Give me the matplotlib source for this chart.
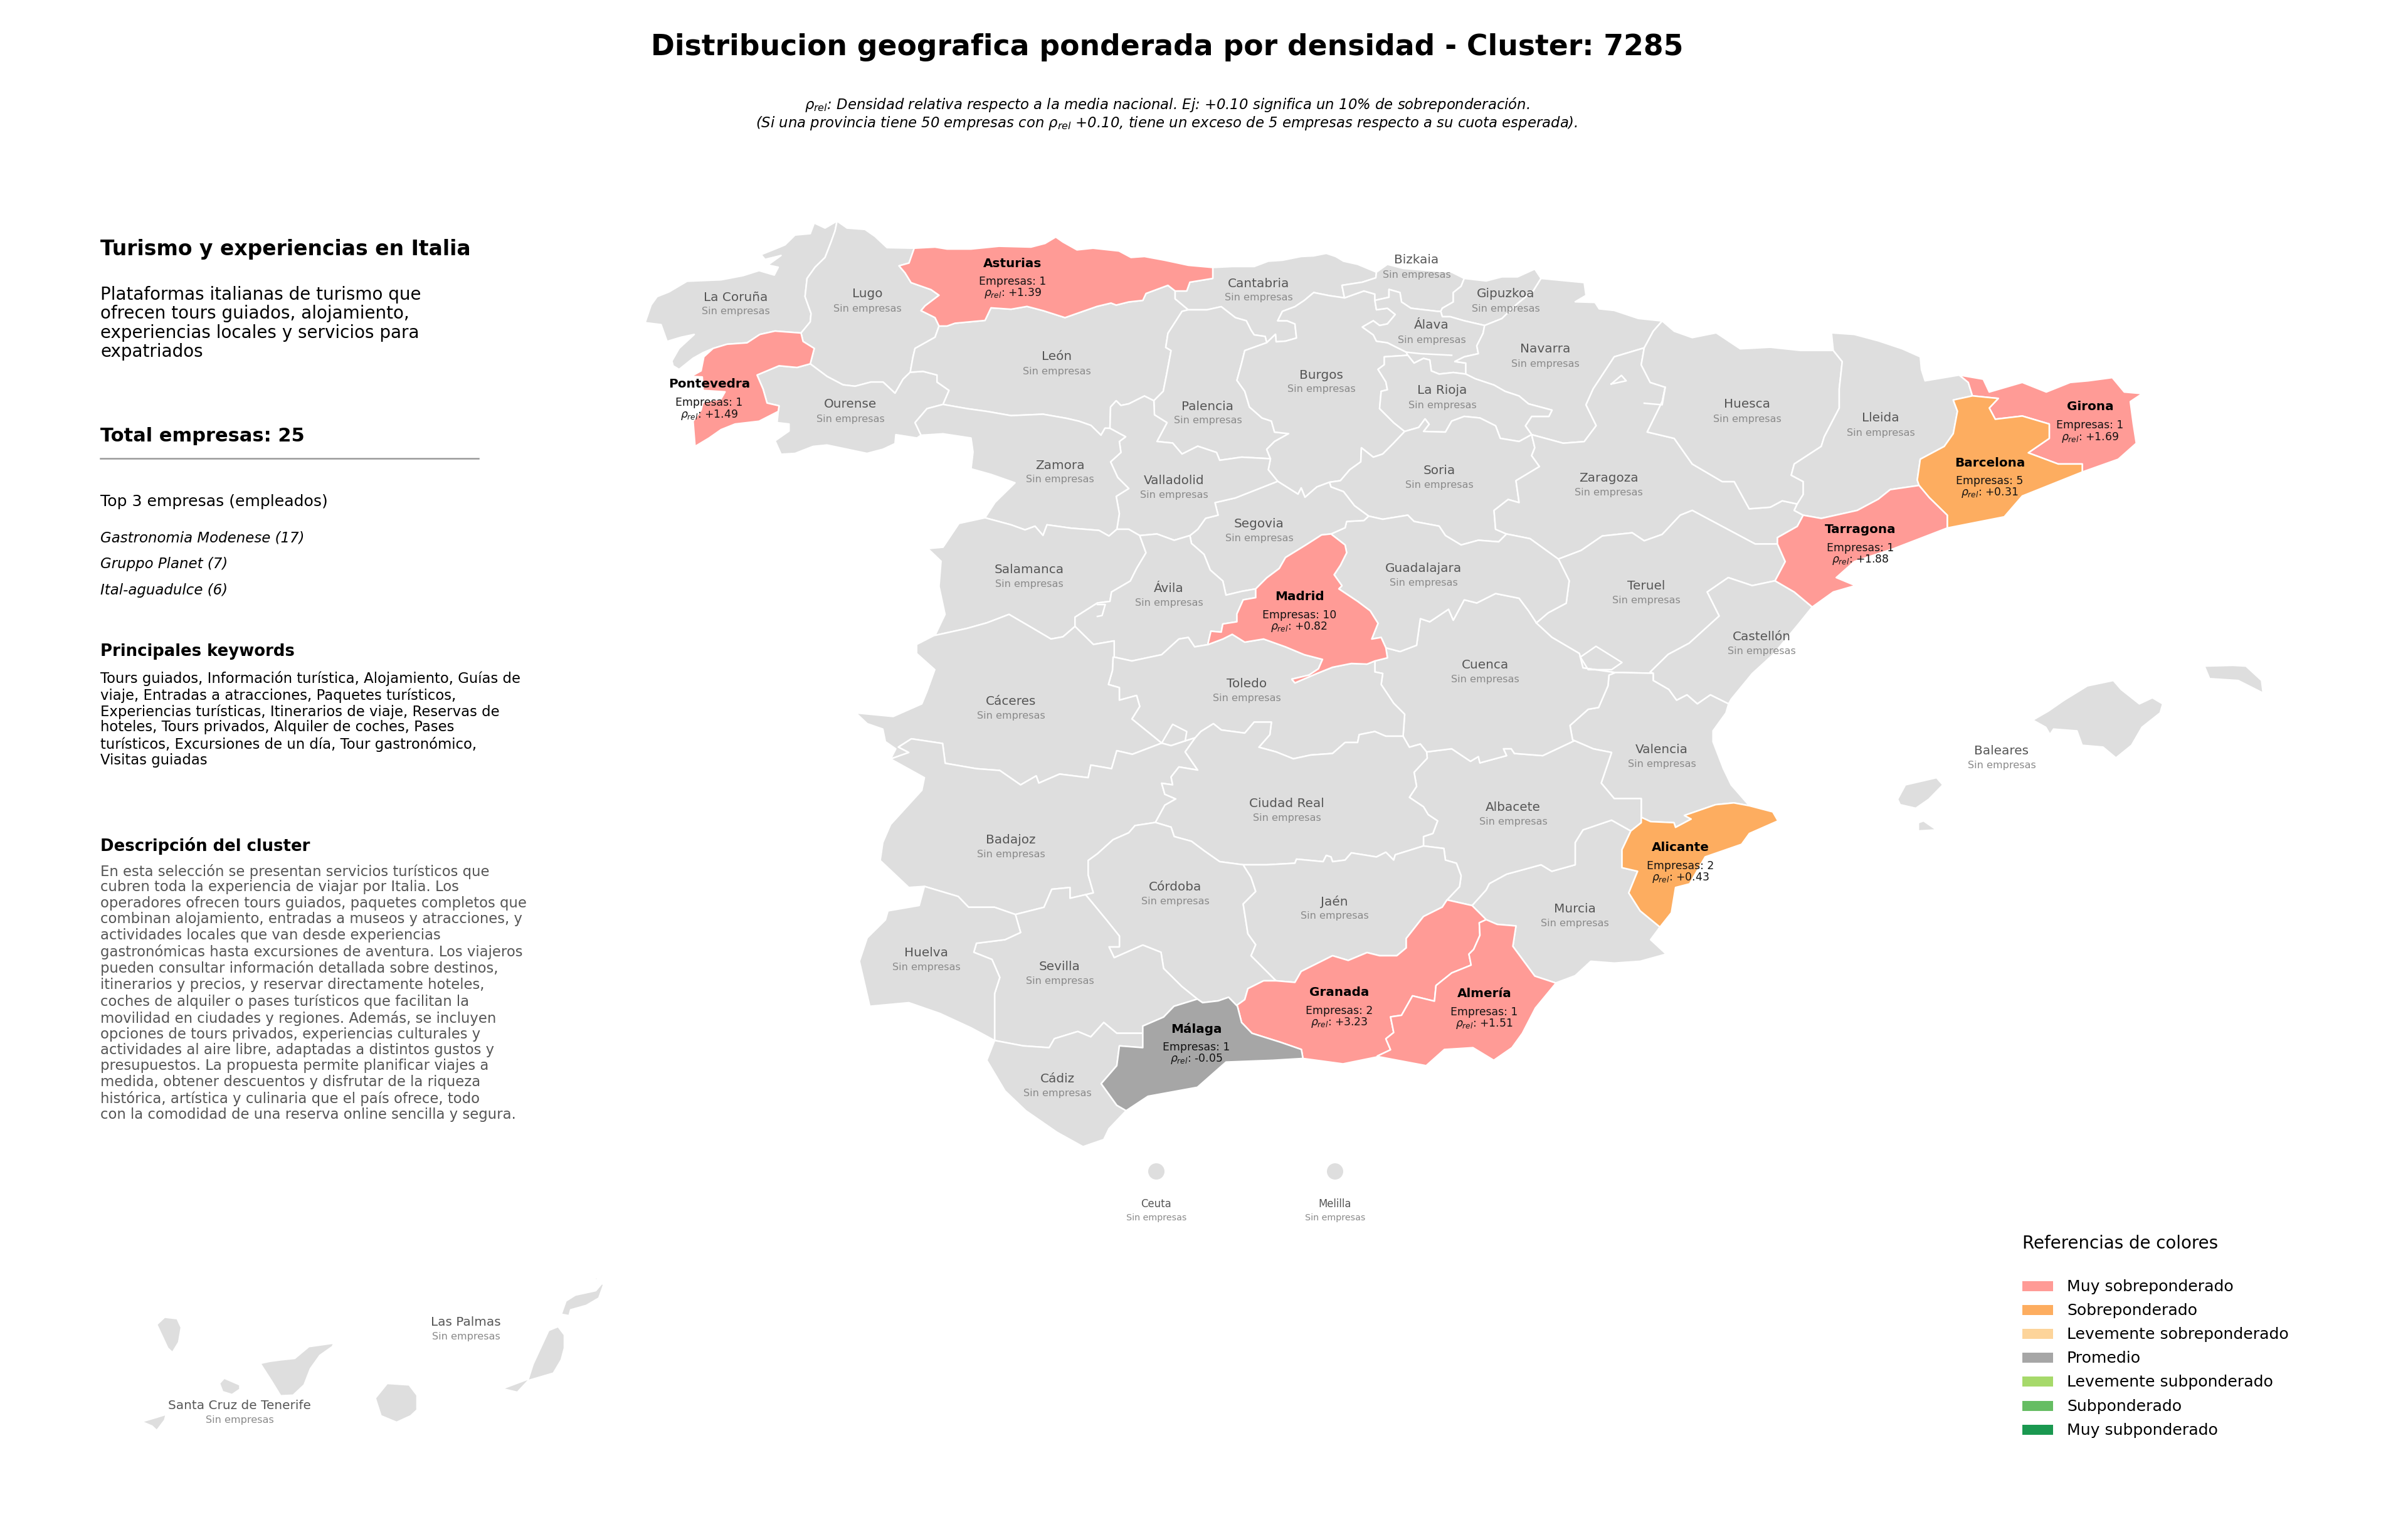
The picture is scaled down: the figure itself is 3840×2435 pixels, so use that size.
import math
import matplotlib
matplotlib.use('Agg')
import matplotlib.pyplot as plt
from matplotlib.patches import Polygon, Circle, Rectangle

DPI = 300
W, H = 3840, 2436


def crop(x0, y0, sx, sy):
    return lambda pts: [(x0 + x / sx, y0 + y / sy) for x, y in pts]


A = crop(1000, 320, 1.568, 2.24)
B = crop(2000, 320, 1.045, 1.96)
C = crop(1300, 1000, 1.206, 1.742)
D = crop(2400, 1000, 1.206, 1.742)
E = crop(1750, 320, 2, 2)
F = crop(1750, 900, 2, 2)
G = crop(200, 1700, 2, 2.13)

# coast and foreign border stretches
c_cor = A([(525,75),(495,100),(468,82),(458,120),(420,125),(395,160),(375,172),(335,195),(345,212),(385,198),(352,232),(378,240),(368,268),(330,252),(290,270),(235,285),(150,290),(105,328),(75,345),(60,375),(45,438),(85,445),(100,505),(135,490),(168,480),(130,530),(112,575),(115,592),(130,605),(165,565),(190,545),(215,530)])
c_lug = A([(525,75),(550,100),(595,105),(620,130),(650,170),(718,172)])
c_pon = A([(215,530),(192,560),(185,610),(160,630),(188,632),(190,680),(245,685),(235,710),(190,722),(185,750),(165,790),(170,880),(205,850),(235,820),(270,800),(330,790),(378,755)])
c_our = A([(378,755),(375,795),(405,800),(405,825),(370,860),(385,908),(420,905),(465,880),(500,875),(550,890),(600,905),(640,890),(670,870),(672,838),(725,850),(735,840)])
c_zam = A([(735,840),(790,835),(860,850),(865,900),(860,960),(910,980),(970,1010),(920,1080),(895,1135)])
c_sal = A([(895,1135),(830,1155),(790,1240),(752,1245),(785,1290),(780,1380),(795,1480),(770,1555)])
c_ast = A([(718,172),(770,168),(800,175),(860,175),(930,165),(1010,168),(1045,155),(1072,132),(1090,150),(1125,178),(1165,172),(1230,182),(1260,205)]) + E([(150,180),(215,192),(290,208),(368,215)])
c_can = E([(368,215),(430,212),(500,212),(545,195),(590,192),(650,180),(690,178),(730,170),(760,180),(785,195),(830,205),(890,230)])
c_biz = E([(890,230),(925,205),(975,218),(1060,225),(1130,230),(1170,250)])
c_gip = E([(1170,250),(1240,258),(1290,245),(1340,245),(1395,220),(1415,250)])
c_nav = B([(478,245),(550,258),(553,298),(535,318),(568,320),(575,340),(600,345),(640,370),(680,378)])
c_hue = B([(680,378),(700,410),(730,430),(770,415),(810,465),(860,460),(910,470),(965,470)])
c_lle = B([(965,470),(962,415),(1000,420),(1040,440),(1080,465),(1110,490),(1112,530),(1118,565),(1175,547)])
c_gir = B([(1175,547),(1215,560),(1225,600),(1280,570),(1320,600),(1360,570),(1390,565),(1430,555),(1450,600),(1480,605),(1460,630),(1465,700),(1470,760),(1440,810),(1380,850)])
c_bar = B([(1380,850),(1280,925),(1250,990),(1155,1025)])
c_tar = B([(1155,1025),(1065,1090),(1000,1130),(970,1180),(1002,1205),(965,1225),(930,1272)])
c_cas = B([(930,1272),(905,1330),(865,1420),(830,1480),(795,1560)]) + D([(430,215)])
c_val = D([(430,215),(425,240),(400,290),(400,320),(420,395),(435,440),(470,498)])
c_ali = D([(470,498),(515,515),(525,540),(470,575),(455,605),(385,640),(355,715),(328,725),(320,795),(298,835)])
c_mur = D([(298,835),(280,870),(310,910),(260,930),(210,935),(165,930),(135,970),(98,990)])
c_alm = C([(1425,990),(1385,1060),(1360,1130),(1340,1170),(1305,1205),(1265,1170),(1210,1175),(1175,1220),(1083,1195)])
c_gra = C([(1083,1195),(1015,1215),(938,1200)])
c_mal = C([(938,1200),(880,1205),(790,1210),(735,1280),(640,1305),(598,1345)])
c_cad = C([(598,1345),(565,1395),(555,1425),(515,1445),(465,1405),(405,1345),(365,1290),(330,1205),(345,1150)])
c_hva = C([(345,1150),(300,1115),(240,1075),(180,1045),(105,1055),(85,930),(100,865),(135,815),(140,790),(200,775),(210,722)])
c_bad = C([(210,722),(180,725),(125,650),(130,600),(145,550),(205,455),(210,420),(145,368)])
c_cac = C([(145,368),(155,340),(135,320),(130,285),(100,270),(78,240),(150,250),(205,215),(215,180),(230,120),(195,75),(195,50),(230,24)])

# borders between provinces
b_cor_pon = A([(215,530),(250,515),(300,510),(332,480),(370,468),(435,475)])
b_cor_lug = A([(435,475),(458,435),(460,405),(445,345),(450,280),(470,240),(495,205),(510,150),(520,110),(525,75)])
b_lug_ast = A([(718,172),(705,225),(680,235),(695,260),(710,295),(760,320),(780,340),(745,378),(735,395),(770,420),(780,450)])
b_lug_leo = A([(780,450),(770,490),(720,530),(715,560),(708,615)])
b_lug_our = A([(708,615),(690,640),(670,690),(640,650),(610,650),(570,665),(540,660),(500,630),(458,585)])
b_lug_pon = A([(435,475),(440,505),(468,530),(458,585)])
b_pon_our = A([(458,585),(425,598),(380,592),(325,625),(340,675),(350,725),(380,735),(378,755)])
b_our_zam = A([(735,840),(720,795),(750,745),(790,730)])
b_our_leo = A([(790,730),(805,680),(775,650),(775,625),(740,612),(708,615)])
b_leo_zam = A([(790,730),(850,745),(900,755),(960,770),(1040,765),(1100,780),(1130,790),(1160,805),(1185,840),(1195,815)]) + E([(40,728)])
b_leo_val = E([(40,728),(42,660),(60,640),(75,655),(100,650),(150,625),(180,640)])
b_leo_pal = E([(180,640),(210,610),(220,560),(235,480),(218,470),(225,425),(270,355),(290,350)])
b_leo_can = E([(290,350),(248,315),(248,290)])
b_ast_can = E([(368,215),(368,250),(295,262),(285,290),(248,290)])
b_ast_leo = E([(248,290),(225,272),(190,285),(155,298),(145,320),(100,325),(60,335)]) + A([(1210,368),(1175,380),(1095,420),(1040,395),(1000,380),(960,390),(910,385),(895,430),(820,440),(800,450),(780,450)])
b_can_pal = E([(290,350),(350,350),(395,340),(440,375),(475,385),(490,415),(500,430),(535,435),(540,455)])
b_can_bur = E([(540,455),(568,428),(570,452),(600,450),(635,440),(630,395),(605,385),(575,385),(590,355),(630,340),(660,320),(690,295),(740,305),(788,312)])
b_can_biz = E([(890,230),(888,248),(845,262),(780,272),(788,312)])
b_biz_bur = E([(788,312),(850,290),(885,300),(885,320)])
b_biz_gip = E([(1170,250),(1160,275),(1135,295),(1135,325),(1100,345),(1095,355)])
b_biz_ala = E([(1095,355),(1085,355),(1000,345),(970,325),(965,295),(930,285),(930,310),(885,320)])
b_ala_bur = E([(885,320),(890,350),(925,345),(950,365),(925,395),(900,400),(880,385),(845,405),(880,430),(890,450),(925,455),(985,485),(990,495)])
b_ala_rio = E([(990,495),(1010,520),(1040,505),(1060,510),(1065,545),(1090,555),(1135,550),(1175,555)])
b_ala_nav = E([(1175,555),(1175,520),(1140,515),(1170,500),(1215,490),(1210,465),(1230,425),(1235,400)])
b_ala_gip = E([(1235,400),(1170,385),(1125,372),(1100,372),(1095,355)])
b_gip_nav = E([(1235,400),(1290,378),(1340,330),(1390,290),(1415,250)])
b_rio_nav = E([(1175,555),(1205,570),(1265,590),(1300,610),(1345,625),(1375,650),(1450,670),(1440,690),(1385,690),(1365,720),(1385,748)])
b_rio_sor = E([(1385,748),(1345,770),(1285,760),(1270,720),(1220,695),(1170,690),(1130,705),(1110,740),(1040,738),(1058,715),(1045,698),(1025,725),(980,738)])
b_bur_rio = E([(980,738),(945,710),(900,665),(905,610),(925,605),(920,580),(895,540),(915,525),(915,500),(990,495)])
b_bur_sor = E([(740,900),(775,895),(805,860),(840,835),(842,790),(880,820),(910,810),(945,775),(980,738)])
b_bur_pal = E([(540,455),(470,480),(460,520),(445,575),(470,610),(485,660),(525,695),(555,705),(565,740),(610,745),(565,770),(540,795),(552,825)])
b_pal_val = E([(180,640),(182,685),(222,710),(190,770),(240,775),(270,810),(320,785),(380,805),(390,830),(460,820),(552,825)])
b_bur_val = E([(552,825),(545,860),(575,897)])
b_bur_seg = E([(575,897),(640,938),(650,918),(662,948),(700,915),(740,900)])
b_val_seg = E([(295,1070),(320,1050),(345,1015),(385,1005),(375,965),(440,950),(575,897)])
b_seg_sor = E([(740,900),(745,915),(785,930),(820,975),(865,1008)])
b_seg_gua = E([(865,1008),(850,1022),(795,1025),(790,1045),(745,1065)])
b_seg_mad = E([(745,1065),(715,1068),(665,1100),(600,1140),(580,1175),(540,1205),(505,1240)])
b_seg_avi = E([(295,1070),(300,1095),(340,1130),(360,1180),(400,1215),(410,1260),(460,1248),(505,1240)])
b_val_zam = E([(40,728),(90,755),(70,770),(75,805),(42,835),(65,885),(100,920),(60,945),(70,1000),(62,1050)])
b_val_sal = E([(62,1050),(100,1050),(135,1070)])
b_val_avi = E([(135,1070),(190,1065),(245,1085),(295,1070)])
b_zam_sal = A([(895,1135),(960,1160),(995,1178),(1020,1165),(1040,1198),(1050,1160),(1110,1172),(1180,1180),(1205,1200)]) + E([(62,1050)])
b_sal_avi = E([(135,1070),(155,1125),(125,1175),(105,1215),(45,1250),(40,1280),(0,1285)]) + A([(1120,1490),(1120,1523)])
b_sal_cac = A([(770,1555),(850,1530),(900,1510),(955,1480),(1015,1530),(1060,1568),(1090,1560),(1120,1523)])
b_avi_cac = A([(1120,1523)]) + C([(535,50),(575,40),(575,85)])
b_mad_avi = E([(505,1240),(505,1268),(465,1275),(445,1320),(445,1345),(400,1352),(395,1378),(362,1375),(352,1418)])
b_avi_tol = E([(352,1418),(310,1425),(290,1395),(260,1400),(205,1450),(110,1470),(55,1458)])
b_mad_tol = E([(352,1418),(400,1400),(430,1385),(470,1410),(530,1400),(600,1425),(660,1450),(718,1465),(705,1495),(675,1515),(620,1528),(630,1540),(700,1510),(750,1490),(810,1478),(860,1480),(885,1470)])
b_mad_cue = E([(885,1470),(925,1460),(920,1428)])
b_mad_gua = E([(745,1065),(790,1100),(795,1125),(775,1165),(755,1195),(780,1230),(770,1240),(830,1280),(870,1310),(895,1350),(875,1400),(905,1395),(920,1428)])
b_sor_gua = E([(865,1008),(910,1018),(990,1005),(1010,1025),(1090,1040),(1110,1070),(1160,1100),(1215,1085),(1280,1090),(1305,1065)])
b_sor_zar = E([(1385,748),(1395,790),(1385,815),(1410,850),(1335,895),(1345,965),(1310,955),(1265,990),(1270,1050),(1305,1065)])
b_zar_gua = E([(1305,1065),(1380,1080),(1470,1145)])
b_nav_hue = B([(680,378),(665,410),(650,462)])
b_nav_zar = B([(650,462),(600,490),(565,590),(553,640),(570,705),(550,755),(515,760),(462,733)])
b_hue_zar = B([(650,462),(645,515),(660,570),(685,585),(680,630),(655,725),(700,745),(730,825),(780,880),(800,880),(825,965),(860,960),(880,940),(905,950)])
b_hue_lle = B([(965,470),(980,505),(975,590),(975,650),(950,740),(945,770),(900,825),(895,860),(915,880),(915,920),(905,950)])
b_lle_gir = B([(1175,547),(1190,570),(1197,612)])
b_lle_bar = B([(1197,612),(1165,625),(1172,660),(1165,730),(1150,770),(1110,810),(1105,875),(1108,892)])
b_lle_tar = B([(1108,892),(1060,905),(1040,935),(1005,970),(945,995),(915,985)])
b_zar_lle = B([(905,950),(900,970),(915,985)])
b_zar_tar = B([(915,985),(905,1020),(872,1055),(872,1075)])
b_tar_ter = B([(872,1075),(885,1130),(868,1190)])
b_tar_cas = B([(868,1190),(900,1225),(930,1272)])
b_bar_tar = B([(1155,1025),(1155,985),(1125,930),(1108,892)])
b_bar_gir = B([(1380,850),(1380,825),(1340,825),(1290,790),(1325,745),(1325,700),(1280,675),(1235,685),(1225,650),(1240,620),(1197,612)])
b_zar_ter = B([(507,1122),(545,1095),(580,1050),(630,1040),(650,1065),(680,1045),(710,985),(730,970),(790,1030),(835,1075),(872,1075)])
b_gua_ter = B([(507,1122),(525,1190),(520,1260),(490,1290),(470,1322)])
b_gua_cue = F([(1400,188),(1375,150),(1345,110),(1270,95),(1210,125),(1170,115),(1135,180),(1120,145),(1060,185),(1030,175),(1018,260),(965,280),(920,268)])
b_ter_cas = B([(868,1190),(830,1205),(790,1180),(755,1225),(775,1300),(725,1385),(690,1420),(660,1475)])
b_ter_cue = D([(60,-10),(90,30),(143,75),(150,115),(212,128)])
b_ter_val = D([(212,128),(225,128),(285,130)])
b_val_cas = D([(285,130),(285,150),(315,175),(330,205),(350,190),(370,215),(395,190),(430,215)])
b_cue_val = D([(130,315),(125,275),(160,230),(180,225),(198,165),(200,135),(212,128)])
b_alb_val = D([(130,315),(170,340),(205,350),(185,435),(210,478),(262,478),(262,530)])
b_alb_ali = D([(262,530),(262,545),(242,568)])
b_ali_val = D([(470,498),(440,490),(405,495),(345,525),(358,535),(328,558),(325,545),(280,542),(262,530)])
b_ali_mur = D([(242,568),(225,620),(225,670),(255,680),(238,740),(260,790),(298,835)])
b_alb_mur = F([(1195,1090),(1240,1040),(1250,1020),(1305,990),(1415,960)]) + D([(90,680),(135,662),(135,600),(150,565),(205,538),(242,568)])
b_cue_alb = F([(1050,600),(1130,590),(1190,630),(1215,615),(1220,635),(1305,612),(1295,590),(1320,590),(1330,605),(1420,612),(1520,565)])
b_cr_cue = F([(975,550),(995,585),(1030,575),(1050,600)])
b_cr_alb = F([(1050,600),(1052,620),(1010,665),(1018,710),(995,745),(1040,775),(1055,800),(1085,820),(1070,860),(1040,870),(1040,900)])
b_tol_cue = F([(885,310),(885,345),(910,350),(905,385),(945,445),(980,480),(975,550)])
b_tol_cr = F([(312,555),(330,535),(370,510),(395,530),(470,540),(500,505),(555,505),(550,545),(515,585),(570,600),(625,622),(680,610),(750,605),(790,570),(830,570),(835,545),(885,535),(920,550),(975,550)])
b_tol_bad = F([(205,572),(235,580),(280,565),(312,555)])
b_tol_cac = F([(205,572),(110,495),(135,455),(125,420),(70,435),(70,395),(35,385),(48,340),(50,298)])
b_cac_bad = C([(145,368),(180,350),(160,335),(185,312),(245,325),(250,380),(310,395),(355,400),(395,440),(425,415),(430,435),(470,410),(525,420),(530,385),(570,395),(580,345),(610,355)]) + F([(205,572)])
b_bad_cr = F([(312,555),(280,600),(320,658),(260,648),(235,680),(240,705),(205,700),(215,735),(250,750),(215,770),(185,825)])
b_bad_cor = F([(185,825),(120,835),(100,858),(50,880),(0,925)]) + C([(525,650),(525,690),(535,740),(520,745)])
b_bad_sev = C([(520,745),(490,755),(490,725),(455,730),(440,780),(385,800)])
b_bad_hva = C([(385,800),(345,780),(295,780),(275,750),(210,722)])
b_hva_sev = C([(385,800),(395,850),(365,870),(310,880),(305,905),(340,925),(355,975),(345,1020),(345,1100),(345,1150)])
b_cor_sev = C([(520,745),(560,815),(585,860),(585,890),(565,890),(575,920),(630,885),(665,905),(670,950),(705,1000),(735,1035)])
b_cr_cor = F([(185,825),(235,840),(245,870),(300,885),(340,915),(390,950),(465,960)])
b_cr_jae = F([(465,960),(540,960),(630,955),(635,942),(720,950),(730,930),(745,935),(750,950),(790,945),(810,922),(890,935),(920,920),(945,945),(950,928),(1040,900)])
b_cor_jae = F([(465,960),(490,1000),(505,1045),(465,1085),(480,1180),(505,1215),(490,1250),(540,1300),(570,1330)])
b_cor_gra = F([(570,1330),(530,1330),(480,1355),(470,1390),(445,1408)])
b_cor_mal = C([(735,1035),(745,1045),(775,1040),(795,1030),(812,1055)])
b_sev_mal = C([(735,1035),(690,1055),(670,1085),(630,1110),(630,1130)])
b_sev_cad = C([(630,1130),(580,1130),(555,1100),(530,1140),(505,1125),(460,1145),(450,1170),(400,1165),(345,1150)])
b_cad_mal = C([(598,1345),(580,1330),(550,1270),(580,1220),(585,1165),(630,1170),(630,1130)])
b_mal_gra = C([(812,1055),(820,1100),(840,1130),(895,1155),(935,1175),(938,1200)])
b_jae_alb = F([(1040,900),(1105,908),(1110,945),(1145,955),(1160,995),(1155,1030),(1115,1072)])
b_jae_gra = F([(1115,1072),(1100,1095),(1040,1125),(985,1195),(985,1225),(955,1250),(900,1250),(860,1240),(800,1265),(750,1250),(650,1300),(630,1335),(570,1330)])
b_gra_alb = F([(1115,1072),(1195,1090)])
b_gra_mur = F([(1195,1090),(1240,1135)])
b_gra_alm = F([(1240,1135),(1218,1145),(1220,1185),(1200,1230),(1185,1245),(1192,1280),(1130,1305),(1080,1345),(1075,1395),(1005,1378),(970,1440),(935,1445),(945,1495),(920,1515),(935,1550),(893,1570)])
b_alm_mur = F([(1240,1135),(1275,1150),(1335,1155),(1325,1220),(1395,1315),(1465,1338)])

# small enclaves that show up as white lines inside a province
ENCLAVES = [
    E([(985,485),(1030,490),(1130,495)]),
    D([(145,85),(175,55),(225,100),(205,120),(160,120),(145,85)]),
    F([(205,572),(240,512),(285,535),(280,565)]),
    B([(650,635),(680,640),(685,585)]),
    B([(595,575),(612,548),(620,565),(595,575)]),
    E([(0,1290),(25,1290),(15,1325),(0,1328)]),
]

# islands
ISLES_BALEARES = [
    D([(1015,260),(1045,235),(1075,205),(1120,165),(1170,150),(1185,175),(1220,215),(1245,198),(1265,215),(1260,240),(1225,280),(1205,330),(1175,365),(1150,335),(1110,330),(1100,290),(1055,285),(1048,300),(1040,280)]),
    D([(1345,110),(1400,108),(1425,110),(1455,150),(1458,185),(1410,150),(1355,145)]),
    D([(755,480),(770,440),(830,420),(842,440),(815,480),(790,505),(760,495)]),
    D([(795,545),(805,540),(830,565),(795,568)]),
]
ISLES_TENERIFE = [
    G([(100,880),(125,855),(165,860),(178,890),(170,940),(150,975),(135,960)]),
    G([(52,1210),(100,1195),(130,1185),(125,1205),(100,1240),(85,1225)]),
    G([(300,1080),(315,1062),(365,1085),(365,1100),(340,1118),(310,1108)]),
    G([(430,1012),(460,1005),(495,1000),(540,995),(585,955),(665,943),(660,955),(620,985),(590,1030),(570,1085),(535,1120),(495,1122),(465,1070)]),
]
ISLES_PALMAS = [
    G([(797,1130),(835,1080),(905,1085),(930,1120),(930,1170),(910,1190),(865,1212),(815,1190)]),
    G([(1202,1098),(1285,1065),(1300,1015),(1350,900),(1380,887),(1400,915),(1400,960),(1390,1000),(1365,1045),(1285,1070),(1250,1110)]),
    G([(1390,845),(1405,800),(1435,780),(1500,765),(1520,740),(1525,745),(1510,790),(1470,815),(1420,830),(1415,850)]),
    G([(1495,728),(1505,715),(1505,728)]),
]
CEUTA_MELILLA_XY = [(1844, 1869), (2129, 1869)]

# province data, anything not listed has no companies
COMPANY_PROVINCES = ['Asturias', 'Pontevedra', 'Madrid', 'Girona', 'Barcelona', 'Tarragona', 'Alicante', 'Granada', 'Almería', 'Málaga']
COMPANY_COUNTS = [1, 1, 10, 1, 5, 1, 2, 2, 1, 1]
COMPANY_RHO = [1.39, 1.49, 0.82, 1.69, 0.31, 1.88, 0.43, 3.23, 1.51, -0.05]

LEGEND_LABELS = ['Muy sobreponderado', 'Sobreponderado', 'Levemente sobreponderado', 'Promedio',
                 'Levemente subponderado', 'Subponderado', 'Muy subponderado']
LEGEND_COLORS = ['#FF9B96', '#FDAD60', '#FDD49A', '#A6A6A6', '#A6D96A', '#66BD63', '#1A9850']

TITLE = 'Distribucion geografica ponderada por densidad - Cluster: 7285'
SUBTITLE = [r'$\rho_{rel}$: Densidad relativa respecto a la media nacional. Ej: +0.10 significa un 10% de sobreponderación.',
            r'(Si una provincia tiene 50 empresas con $\rho_{rel}$ +0.10, tiene un exceso de 5 empresas respecto a su cuota esperada).']
HEAD = 'Turismo y experiencias en Italia'
HEAD_LINES = ['Plataformas italianas de turismo que', 'ofrecen tours guiados, alojamiento,',
              'experiencias locales y servicios para', 'expatriados']
TOTAL = 'Total empresas: 25'
TOP_TITLE = 'Top 3 empresas (empleados)'
TOP_COMPANIES = ['Gastronomia Modenese (17)', 'Gruppo Planet (7)', 'Ital-aguadulce (6)']
KEYWORDS_TITLE = 'Principales keywords'
KEYWORDS = ['Tours guiados, Información turística, Alojamiento, Guías de',
            'viaje, Entradas a atracciones, Paquetes turísticos,',
            'Experiencias turísticas, Itinerarios de viaje, Reservas de',
            'hoteles, Tours privados, Alquiler de coches, Pases',
            'turísticos, Excursiones de un día, Tour gastronómico,',
            'Visitas guiadas']
DESC_TITLE = 'Descripción del cluster'
DESCRIPTION = ['En esta selección se presentan servicios turísticos que',
               'cubren toda la experiencia de viajar por Italia. Los',
               'operadores ofrecen tours guiados, paquetes completos que',
               'combinan alojamiento, entradas a museos y atracciones, y',
               'actividades locales que van desde experiencias',
               'gastronómicas hasta excursiones de aventura. Los viajeros',
               'pueden consultar información detallada sobre destinos,',
               'itinerarios y precios, y reservar directamente hoteles,',
               'coches de alquiler o pases turísticos que facilitan la',
               'movilidad en ciudades y regiones. Además, se incluyen',
               'opciones de tours privados, experiencias culturales y',
               'actividades al aire libre, adaptadas a distintos gustos y',
               'presupuestos. La propuesta permite planificar viajes a',
               'medida, obtener descuentos y disfrutar de la riqueza',
               'histórica, artística y culinaria que el país ofrece, todo',
               'con la comodidad de una reserva online sencilla y segura.']

# where the name of each province sits
LABEL_XY = {
    'La Coruña': (1173, 472), 'Lugo': (1383, 467), 'León': (1685, 567), 'Ourense': (1356, 643),
    'Zamora': (1690, 740), 'Salamanca': (1641, 907), 'Cantabria': (2007, 450), 'Bizkaia': (2259, 413),
    'Gipuzkoa': (2401, 467), 'Álava': (2283, 517), 'Navarra': (2464, 555), 'Burgos': (2107, 596),
    'La Rioja': (2300, 621), 'Palencia': (1926, 646), 'Valladolid': (1872, 765), 'Soria': (2295, 749),
    'Segovia': (2008, 834), 'Guadalajara': (2270, 905), 'Ávila': (1864, 937), 'Toledo': (1988, 1089),
    'Cuenca': (2368, 1059), 'Huesca': (2786, 643), 'Lleida': (2999, 665), 'Zaragoza': (2565, 761),
    'Teruel': (2625, 933), 'Castellón': (2809, 1014), 'Cáceres': (1612, 1117), 'Ciudad Real': (2052, 1280),
    'Albacete': (2413, 1286), 'Badajoz': (1612, 1338), 'Córdoba': (1874, 1413), 'Jaén': (2128, 1436),
    'Murcia': (2511, 1448), 'Huelva': (1477, 1518), 'Sevilla': (1690, 1540), 'Cádiz': (1686, 1719),
    'Valencia': (2650, 1194), 'Baleares': (3192, 1196), 'Las Palmas': (743, 2107),
    'Santa Cruz de Tenerife': (382, 2240),
    'Asturias': (1615, 418), 'Pontevedra': (1131, 611), 'Madrid': (2072, 950), 'Girona': (3333, 647),
    'Barcelona': (3173, 736), 'Tarragona': (2967, 843), 'Alicante': (2680, 1350), 'Granada': (2136, 1581),
    'Almería': (2367, 1583), 'Málaga': (1908, 1639),
}
SMALL_LABEL_XY = {'Ceuta': (1844, 1918), 'Melilla': (2129, 1918)}


def ring(*chains):
    # joins border stretches into one outline, flipping each one as needed
    first = chains[0]
    second = chains[1]
    def dist(p, q):
        return math.hypot(p[0] - q[0], p[1] - q[1])
    if min(dist(first[0], second[0]), dist(first[0], second[-1])) < min(dist(first[-1], second[0]), dist(first[-1], second[-1])):
        first = first[::-1]
    pts = list(first)
    for c in chains[1:]:
        if dist(pts[-1], c[-1]) < dist(pts[-1], c[0]):
            c = c[::-1]
        pts.extend(c)
    return pts


PROVINCES = {
    'La Coruña': [ring(c_cor, b_cor_pon, b_cor_lug)],
    'Lugo': [ring(c_lug, b_lug_ast, b_lug_leo, b_lug_our, b_lug_pon, b_cor_lug)],
    'Pontevedra': [ring(c_pon, b_pon_our, b_lug_pon, b_cor_pon)],
    'Ourense': [ring(c_our, b_our_zam, b_our_leo, b_lug_our, b_pon_our)],
    'Asturias': [ring(c_ast, b_ast_can, b_ast_leo, b_lug_ast)],
    'León': [ring(b_lug_leo, b_ast_leo, b_leo_can, b_leo_pal, b_leo_val, b_leo_zam, b_our_leo)],
    'Cantabria': [ring(c_can, b_can_biz, b_can_bur, b_can_pal, b_leo_can, b_ast_can)],
    'Palencia': [ring(b_can_pal, b_bur_pal, b_pal_val, b_leo_pal)],
    'Burgos': [ring(b_can_bur, b_biz_bur, b_ala_bur, b_bur_rio, b_bur_sor, b_bur_seg, b_bur_val, b_bur_pal)],
    'Bizkaia': [ring(c_biz, b_biz_gip, b_biz_ala, b_biz_bur, b_can_biz)],
    'Gipuzkoa': [ring(c_gip, b_gip_nav, b_ala_gip, b_biz_gip)],
    'Álava': [ring(b_biz_ala, b_ala_gip, b_ala_nav, b_ala_rio, b_ala_bur)],
    'Navarra': [ring(c_nav, b_nav_hue, b_nav_zar, b_rio_nav, b_ala_nav, b_gip_nav)],
    'La Rioja': [ring(b_ala_rio, b_rio_nav, b_rio_sor, b_bur_rio)],
    'Soria': [ring(b_bur_sor, b_rio_sor, b_sor_zar, b_sor_gua, b_seg_sor)],
    'Zaragoza': [ring(b_nav_zar, b_hue_zar, b_zar_lle, b_zar_tar, b_zar_ter, b_zar_gua, b_sor_zar)],
    'Huesca': [ring(c_hue, b_hue_lle, b_hue_zar, b_nav_hue)],
    'Lleida': [ring(c_lle, b_lle_gir, b_lle_bar, b_lle_tar, b_zar_lle, b_hue_lle)],
    'Girona': [ring(c_gir, b_bar_gir, b_lle_gir)],
    'Barcelona': [ring(b_bar_gir, c_bar, b_bar_tar, b_lle_bar)],
    'Tarragona': [ring(b_lle_tar, b_bar_tar, c_tar, b_tar_cas, b_tar_ter, b_zar_tar)],
    'Teruel': [ring(b_zar_ter, b_tar_ter, b_ter_cas, b_ter_val, b_ter_cue, b_gua_ter)],
    'Castellón': [ring(b_tar_cas, c_cas, b_val_cas, b_ter_cas)],
    'Valencia': [ring(b_val_cas, c_val, b_ali_val, b_alb_val, b_cue_val, b_ter_val)],
    'Alicante': [ring(b_ali_val, c_ali, b_ali_mur, b_alb_ali)],
    'Murcia': [ring(b_ali_mur, c_mur, b_alm_mur, b_gra_mur, b_alb_mur)],
    'Albacete': [ring(b_cue_alb, b_alb_val, b_alb_ali, b_alb_mur, b_gra_alb, b_jae_alb, b_cr_alb)],
    'Cuenca': [ring(b_mad_cue, b_gua_cue, b_ter_cue, b_cue_val, b_cue_alb, b_cr_cue, b_tol_cue)],
    'Guadalajara': [ring(b_seg_gua, b_sor_gua, b_zar_gua, b_gua_ter, b_gua_cue, b_mad_gua)],
    'Madrid': [ring(b_seg_mad, b_mad_gua, b_mad_cue, b_mad_tol, b_mad_avi)],
    'Segovia': [ring(b_val_seg, b_bur_seg, b_seg_sor, b_seg_gua, b_seg_mad, b_seg_avi)],
    'Valladolid': [ring(b_leo_val, b_pal_val, b_bur_val, b_val_seg, b_val_avi, b_val_sal, b_val_zam)],
    'Zamora': [ring(c_zam, b_zam_sal, b_val_zam, b_leo_zam, b_our_zam)],
    'Salamanca': [ring(c_sal, b_sal_cac, b_sal_avi, b_val_sal, b_zam_sal)],
    'Ávila': [ring(b_sal_avi, b_val_avi, b_seg_avi, b_mad_avi, b_avi_tol, b_avi_cac)],
    'Toledo': [ring(b_avi_tol, b_mad_tol, b_tol_cue, b_tol_cr, b_tol_bad, b_tol_cac)],
    'Cáceres': [ring(c_cac, b_cac_bad, b_tol_cac, b_avi_cac, b_sal_cac)],
    'Badajoz': [ring(c_bad, b_cac_bad, b_tol_bad, b_bad_cr, b_bad_cor, b_bad_sev, b_bad_hva)],
    'Ciudad Real': [ring(b_tol_cr, b_cr_cue, b_cr_alb, b_cr_jae, b_cr_cor, b_bad_cr)],
    'Córdoba': [ring(b_bad_cor, b_cr_cor, b_cor_jae, b_cor_gra, b_cor_mal, b_cor_sev)],
    'Jaén': [ring(b_cr_jae, b_jae_alb, b_jae_gra, b_cor_jae)],
    'Granada': [ring(b_cor_gra, b_jae_gra, b_gra_alb, b_gra_mur, b_gra_alm, c_gra, b_mal_gra)],
    'Almería': [ring(b_gra_alm, c_alm, b_alm_mur)],
    'Málaga': [ring(b_cor_mal, b_mal_gra, c_mal, b_cad_mal, b_sev_mal)],
    'Sevilla': [ring(b_cor_sev, b_sev_mal, b_sev_cad, b_hva_sev, b_bad_sev)],
    'Cádiz': [ring(b_sev_cad, b_cad_mal, c_cad)],
    'Huelva': [ring(c_hva, b_hva_sev, b_bad_hva)],
    'Baleares': ISLES_BALEARES,
    'Santa Cruz de Tenerife': ISLES_TENERIFE,
    'Las Palmas': ISLES_PALMAS,
}

GREY = '#DEDEDE'


def color_for(rho):
    if rho >= 0.5:
        return LEGEND_COLORS[0]
    if rho >= 0.2:
        return LEGEND_COLORS[1]
    if rho >= 0.1:
        return LEGEND_COLORS[2]
    if rho > -0.1:
        return LEGEND_COLORS[3]
    if rho > -0.2:
        return LEGEND_COLORS[4]
    if rho > -0.5:
        return LEGEND_COLORS[5]
    return LEGEND_COLORS[6]


def main():
    fig = plt.figure(figsize=(W / DPI, H / DPI), dpi=DPI)
    ax = fig.add_axes([0, 0, 1, 1])
    ax.set_xlim(0, W)
    ax.set_ylim(H, 0)
    ax.axis('off')

    def txt(x, y, s, px, **kw):
        kw.setdefault('va', 'center')
        kw.setdefault('ha', 'left')
        ax.text(x, y + 2, s, fontsize=px * 72 / DPI, **kw)

    stats = {n: (c, r) for n, c, r in zip(COMPANY_PROVINCES, COMPANY_COUNTS, COMPANY_RHO)}

    # grey provinces first so the coloured ones keep their edge
    names = sorted(PROVINCES, key=lambda n: n in stats)
    for name in names:
        color = color_for(stats[name][1]) if name in stats else GREY
        for pts in PROVINCES[name]:
            ax.add_patch(Polygon(pts, closed=True, facecolor=color, edgecolor='white', linewidth=0.6, joinstyle='round'))
    for line in ENCLAVES:
        ax.plot([p[0] for p in line], [p[1] for p in line], color='white', lw=0.6)
    for xy in CEUTA_MELILLA_XY:
        ax.add_patch(Circle(xy, 13, facecolor=GREY, edgecolor='none'))

    for name, (x, y) in LABEL_XY.items():
        if name in stats:
            count, rho = stats[name]
            txt(x, y, name, 20, ha='center', weight='bold', color='black')
            txt(x, y + 29, 'Empresas: %d' % count, 17.2, ha='center', color='#111111')
            txt(x, y + 48, r'$\rho_{rel}$: %+.2f' % rho, 17.2, ha='center', color='#111111')
        else:
            txt(x, y, name, 20, ha='center', color='#555555')
            txt(x, y + 23, 'Sin empresas', 16.2, ha='center', color='#8A8A8A')
    for name, (x, y) in SMALL_LABEL_XY.items():
        txt(x, y, name, 16.6, ha='center', color='#555555')
        txt(x, y + 22, 'Sin empresas', 14.2, ha='center', color='#8A8A8A')

    # header
    txt(1861, 73, TITLE, 45.7, ha='center', weight='bold')
    txt(1861, 165, SUBTITLE[0], 22.8, ha='center', style='italic')
    txt(1861, 195, SUBTITLE[1], 22.8, ha='center', style='italic')

    # left column
    left = 160
    txt(left, 395, HEAD, 33, weight='bold')
    for y, line in zip([468, 498, 529, 559], HEAD_LINES):
        txt(left, y, line, 27.8)
    txt(left, 693, TOTAL, 30.5, weight='bold')
    ax.plot([left, 763], [732, 732], color='#999999', lw=0.6)
    txt(left, 798, TOP_TITLE, 25.1)
    for y, line in zip([856, 898, 940], TOP_COMPANIES):
        txt(left, y, line, 22.9, style='italic')
    txt(left, 1037, KEYWORDS_TITLE, 26, weight='bold')
    for y, line in zip([1080, 1107, 1133, 1158, 1185, 1211], KEYWORDS):
        txt(left, y, line, 22.85)
    txt(left, 1347, DESC_TITLE, 26, weight='bold')
    ys = [1388, 1413, 1439, 1464, 1490, 1516, 1542, 1569, 1595, 1622, 1648, 1673, 1698, 1724, 1750, 1776]
    for y, line in zip(ys, DESCRIPTION):
        txt(left, y, line, 22.85, color='#555555')

    # colour key
    txt(3225, 1981, 'Referencias de colores', 27.7)
    for y, label, color in zip([2052, 2090, 2128, 2166, 2204, 2243, 2281], LEGEND_LABELS, LEGEND_COLORS):
        ax.add_patch(Rectangle((3225, y - 8), 49, 16, facecolor=color, edgecolor='none'))
        txt(3296, y - 2, label, 25.1)

    fig.savefig('out.png', dpi=DPI, facecolor='white')


if __name__ == '__main__':
    main()
